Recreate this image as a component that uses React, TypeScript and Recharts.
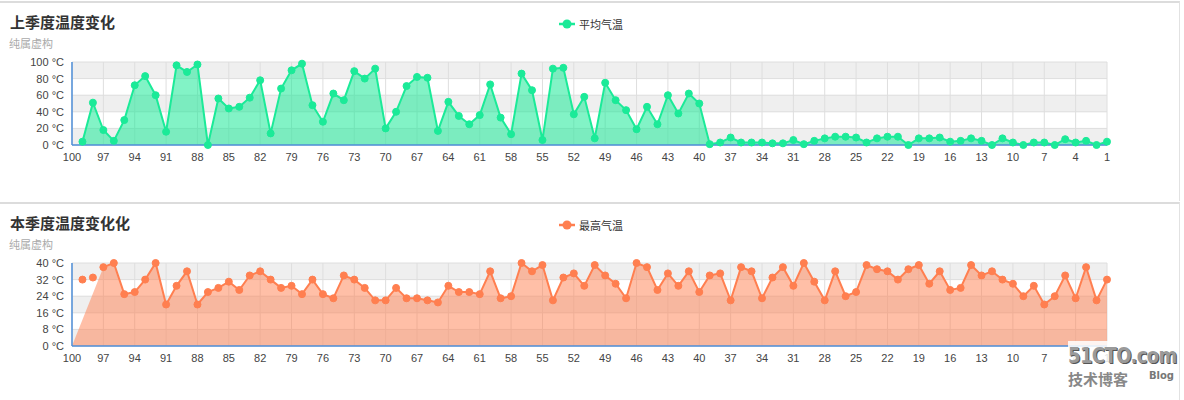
import React from 'react';
import { AreaChart, Area, ComposedChart, Line, XAxis, YAxis, CartesianGrid } from 'recharts';

// categories run from 100 down to 1
const categories = [
  '100', '99', '98', '97', '96', '95', '94', '93', '92', '91',
  '90', '89', '88', '87', '86', '85', '84', '83', '82', '81',
  '80', '79', '78', '77', '76', '75', '74', '73', '72', '71',
  '70', '69', '68', '67', '66', '65', '64', '63', '62', '61',
  '60', '59', '58', '57', '56', '55', '54', '53', '52', '51',
  '50', '49', '48', '47', '46', '45', '44', '43', '42', '41',
  '40', '39', '38', '37', '36', '35', '34', '33', '32', '31',
  '30', '29', '28', '27', '26', '25', '24', '23', '22', '21',
  '20', '19', '18', '17', '16', '15', '14', '13', '12', '11',
  '10', '9', '8', '7', '6', '5', '4', '3', '2', '1',
];

// 上季度 平均气温
const avgTemp = [
  null, 4, 51, 18, 5, 30, 72, 83, 60, 16,
  96, 88, 97, 0, 56, 44, 46, 57, 78, 14,
  68, 90, 98, 48, 28, 62, 54, 89, 80, 92,
  20, 40, 71, 82, 81, 17, 52, 35, 25, 36,
  73, 33, 13, 86, 66, 6, 92, 93, 37, 58,
  8, 75, 54, 42, 19, 46, 25, 60, 38, 62,
  50, 1, 3, 9, 3, 3, 3, 2, 2, 6,
  1, 5, 8, 10, 10, 9, 3, 8, 10, 10,
  0, 8, 8, 9, 4, 5, 8, 5, 0, 8,
  3, 0, 3, 3, 0, 7, 3, 5, 0, 4,
];

// 本季度 最高气温 (connected line)
const maxTemp = [
  null, null, null, 38, 40, 25, 26, 32, 40, 20,
  29, 36, 20, 26, 28, 31, 27, 34, 36, 32,
  28, 29, 25, 32, 25, 23, 34, 32, 28, 22,
  22, 28, 23, 23, 22, 21, 29, 26, 26, 25,
  36, 23, 24, 40, 36, 39, 22, 33, 35, 29,
  39, 34, 30, 23, 40, 38, 27, 35, 29, 36,
  26, 34, 35, 22, 38, 36, 23, 33, 38, 29,
  40, 31, 22, 36, 24, 26, 39, 37, 36, 32,
  37, 39, 30, 36, 27, 28, 39, 34, 36, 32,
  30, 24, 29, 20, 24, 34, 23, 38, 22, 32,
];

// the filled area starts at 0 on the first category
const maxTempFill = [0, null, null, ...maxTemp.slice(3)];

// two loose points that are not joined to the line
const maxTempLoose = [null, 32, 33];

const avgRows = categories.map((c, i) => ({ cat: c, avg: avgTemp[i] }));
const maxRows = categories.map((c, i) => ({
  cat: c,
  fill: maxTempFill[i],
  max: maxTemp[i],
  loose: i < maxTempLoose.length ? maxTempLoose[i] : null,
}));

const avgTicks = [0, 20, 40, 60, 80, 100];
const maxTicks = [0, 8, 16, 24, 32, 40];

const GREEN = '#1bea98';
const ORANGE = '#ff7f50';
const AXIS_BLUE = '#4f8fd8';
const FONT = '"Liberation Sans", Arial, "Noto Sans CJK SC", sans-serif';

const W = 1180;
const H = 200;
const margin = { top: 61, right: 73, bottom: 26, left: 0 };
const tickStyle = { fill: '#444', fontSize: 11, fontFamily: FONT };

function LegendItem({ color, label }: { color: string; label: string }) {
  return (
    <div style={{ position: 'absolute', left: 559, top: 15, display: 'flex', alignItems: 'center', fontFamily: FONT }}>
      <svg width={16} height={10}>
        <line x1={0} y1={5} x2={16} y2={5} stroke={color} strokeWidth={2.5} />
        <circle cx={8} cy={5} r={4.5} fill={color} />
      </svg>
      <span style={{ marginLeft: 4, fontSize: 11, color: '#333' }}>{label}</span>
    </div>
  );
}

function Panel({ top, title, children }: { top: number; title: string; children: React.ReactNode }) {
  return (
    <div
      style={{
        position: 'absolute',
        left: 0,
        top,
        width: W,
        height: H,
        borderTop: '2px solid #dcdcdc',
        borderRight: '1px solid #e2e2e2',
        boxSizing: 'border-box',
      }}
    >
      <div style={{ position: 'absolute', left: 10, top: 11, fontSize: 15, lineHeight: '18px', fontWeight: 'bold', color: '#333', fontFamily: FONT }}>
        {title}
      </div>
      <div style={{ position: 'absolute', left: 9, top: 35, fontSize: 11, lineHeight: '13px', color: '#aaa', fontFamily: FONT }}>
        纯属虚构
      </div>
      <div style={{ position: 'absolute', left: 0, top: -2 }}>{children}</div>
    </div>
  );
}

const greenDot = { r: 3.5, fill: GREEN, fillOpacity: 1, stroke: GREEN, strokeWidth: 1 };
const orangeDot = { r: 3.5, fill: ORANGE, fillOpacity: 1, stroke: ORANGE, strokeWidth: 1 };

export default function App() {
  return (
    <div style={{ position: 'absolute', left: 0, top: 0, width: 1184, height: 400, background: '#fff', overflow: 'hidden' }}>
      <Panel top={1} title="上季度温度变化">
        <AreaChart width={W} height={H} data={avgRows} margin={margin}>
          <CartesianGrid stroke="#dedede" horizontalFill={['#efefef', '#ffffff']} />
          <XAxis dataKey="cat" interval={2} tickLine={false} height={30} tick={tickStyle} axisLine={{ stroke: AXIS_BLUE, strokeWidth: 1.5 }} />
          <YAxis
            width={72}
            domain={[0, 100]}
            ticks={avgTicks}
            interval={0}
            tickLine={false}
            tick={tickStyle}
            tickFormatter={(v) => `${v} °C`}
            axisLine={{ stroke: AXIS_BLUE, strokeWidth: 1.5 }}
          />
          <Area
            type="linear"
            dataKey="avg"
            stroke={GREEN}
            strokeWidth={2}
            fill={GREEN}
            fillOpacity={0.55}
            dot={greenDot}
            isAnimationActive={false}
          />
        </AreaChart>
        <LegendItem color={GREEN} label="平均气温" />
      </Panel>

      <Panel top={202} title="本季度温度变化化">
        <ComposedChart width={W} height={H} data={maxRows} margin={margin}>
          <CartesianGrid stroke="#dedede" horizontalFill={['#efefef', '#ffffff']} />
          <XAxis dataKey="cat" interval={2} tickLine={false} height={30} tick={tickStyle} axisLine={{ stroke: AXIS_BLUE, strokeWidth: 1.5 }} />
          <YAxis
            width={72}
            domain={[0, 40]}
            ticks={maxTicks}
            interval={0}
            tickLine={false}
            tick={tickStyle}
            tickFormatter={(v) => `${v} °C`}
            axisLine={{ stroke: AXIS_BLUE, strokeWidth: 1.5 }}
          />
          <Area
            type="linear"
            dataKey="fill"
            stroke="none"
            fill={ORANGE}
            fillOpacity={0.5}
            connectNulls
            dot={false}
            activeDot={false}
            isAnimationActive={false}
          />
          <Line type="linear" dataKey="max" stroke={ORANGE} strokeWidth={2} dot={orangeDot} isAnimationActive={false} />
          <Line type="linear" dataKey="loose" stroke="none" dot={orangeDot} isAnimationActive={false} />
        </ComposedChart>
        <LegendItem color={ORANGE} label="最高气温" />
      </Panel>

      {/* site watermark, bottom right */}
      <div style={{ position: 'absolute', left: 1068, top: 341, width: 106, fontFamily: '"DejaVu Sans", sans-serif', color: '#9a9a9a', background: 'rgba(255,255,255,0.85)' }}>
        <div
          style={{
            fontSize: 18,
            fontWeight: 'bold',
            lineHeight: '24px',
            letterSpacing: -0.6,
            whiteSpace: 'nowrap',
            transform: 'scaleY(1.2)',
            transformOrigin: 'left top',
            textShadow: '1px 1px 0 #555',
          }}
        >
          51CTO.com
        </div>
        <div style={{ display: 'flex', justifyContent: 'space-between', alignItems: 'flex-start', marginTop: 5 }}>
          <span style={{ fontSize: 15, fontWeight: 'bold', fontFamily: '"Noto Sans CJK SC", sans-serif', color: '#888', lineHeight: '18px' }}>技术博客</span>
          <span style={{ fontSize: 10, fontWeight: 'bold', color: '#777', lineHeight: '12px' }}>Blog</span>
        </div>
      </div>
    </div>
  );
}
